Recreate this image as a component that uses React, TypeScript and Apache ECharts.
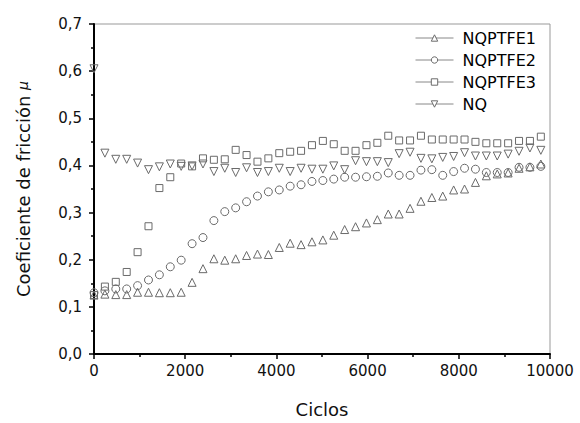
import React, { useEffect, useRef } from "react";
import * as echarts from "echarts";

const cycles = [
  0, 239, 478, 717, 956, 1195, 1434, 1673, 1912, 2151, 2390, 2629, 2868, 3107,
  3346, 3585, 3824, 4063, 4302, 4541, 4780, 5019, 5258, 5497, 5736, 5975, 6214,
  6453, 6692, 6931, 7170, 7409, 7648, 7887, 8126, 8365, 8604, 8843, 9082, 9321,
  9560, 9799,
];

const nqptfe1 = [
  0.125, 0.127, 0.126, 0.126, 0.131, 0.131, 0.13, 0.13, 0.131, 0.152, 0.181,
  0.202, 0.199, 0.202, 0.209, 0.212, 0.211, 0.226, 0.235, 0.232, 0.238, 0.242,
  0.252, 0.264, 0.27, 0.278, 0.285, 0.297, 0.297, 0.309, 0.324, 0.332, 0.335,
  0.348, 0.35, 0.364, 0.378, 0.382, 0.384, 0.394, 0.397, 0.403,
];

const nqptfe2 = [
  0.13, 0.134, 0.138, 0.138, 0.145, 0.157, 0.168, 0.185, 0.199, 0.234, 0.247,
  0.283, 0.302, 0.31, 0.323, 0.335, 0.344, 0.348, 0.356, 0.359, 0.366, 0.368,
  0.371, 0.375, 0.375, 0.376, 0.377, 0.384, 0.379, 0.379, 0.39, 0.391, 0.379,
  0.387, 0.394, 0.392, 0.385, 0.385, 0.385, 0.396, 0.396, 0.398,
];

const nqptfe3 = [
  0.125, 0.143, 0.153, 0.174, 0.216, 0.271, 0.352, 0.375, 0.404, 0.398, 0.415,
  0.412, 0.413, 0.433, 0.422, 0.408, 0.415, 0.426, 0.429, 0.431, 0.443, 0.452,
  0.445, 0.431, 0.431, 0.443, 0.448, 0.463, 0.453, 0.453, 0.463, 0.455, 0.455,
  0.455, 0.455, 0.45, 0.447, 0.447, 0.447, 0.452, 0.452, 0.461,
];

const nq = [
  0.605, 0.426, 0.413, 0.413, 0.405, 0.391, 0.397, 0.403, 0.398, 0.399, 0.403,
  0.387, 0.394, 0.385, 0.395, 0.385, 0.387, 0.394, 0.387, 0.394, 0.392, 0.392,
  0.399, 0.391, 0.41, 0.408, 0.408, 0.406, 0.425, 0.428, 0.415, 0.414, 0.417,
  0.419, 0.427, 0.42, 0.42, 0.42, 0.424, 0.43, 0.437, 0.432,
];

const seriesNames = ["NQPTFE1", "NQPTFE2", "NQPTFE3", "NQ"];
const seriesValues = [nqptfe1, nqptfe2, nqptfe3, nq];
const seriesSymbols = ["triangle", "circle", "rect", "triangle"];
const seriesRotate = [0, 0, 0, 180];

const FONT = "DejaVu Sans";
const MARK = "#6a6a6a";

export default function App() {
  const ref = useRef<HTMLDivElement>(null);

  useEffect(() => {
    if (!ref.current) return;
    const chart = echarts.init(ref.current, undefined, { renderer: "svg" });

    const series = seriesNames.map((name, s) => ({
      name,
      type: "line",
      data: cycles.map((c, i) => [c, seriesValues[s][i]]),
      symbol: seriesSymbols[s],
      symbolRotate: seriesRotate[s],
      symbolSize: seriesSymbols[s] === "rect" ? 7 : 8,
      showSymbol: true,
      showAllSymbol: true,
      lineStyle: { opacity: 0, width: 0 },
      itemStyle: { color: "transparent", borderColor: MARK, borderWidth: 1 },
      emphasis: { disabled: true },
      silent: true,
      clip: false,
    }));

    chart.setOption({
      animation: false,
      backgroundColor: "#fff",
      grid: {
        left: 94,
        right: 30,
        top: 24,
        bottom: 67,
        show: true,
        borderColor: "#999",
        borderWidth: 1,
        backgroundColor: "transparent",
      },
      legend: {
        orient: "vertical",
        left: 415,
        top: 30,
        padding: 0,
        itemGap: 6,
        itemWidth: 38,
        itemHeight: 8,
        data: seriesNames,
        selectedMode: false,
        lineStyle: { color: "#888", width: 1, opacity: 1 },
        itemStyle: { color: "#fff", borderColor: MARK, borderWidth: 1 },
        textStyle: {
          fontSize: 16,
          fontFamily: FONT,
          color: "#000",
          padding: [0, 0, 0, 4],
        },
      },
      xAxis: {
        type: "value",
        min: 0,
        max: 10000,
        interval: 2000,
        name: "Ciclos",
        nameLocation: "middle",
        nameGap: 46,
        nameTextStyle: { fontSize: 18, fontFamily: FONT, color: "#111" },
        axisLine: { show: true, onZero: false, lineStyle: { color: "#000", width: 2 } },
        axisTick: { show: true, length: 5, lineStyle: { color: "#000", width: 1.5 } },
        minorTick: {
          show: true,
          splitNumber: 2,
          length: 3,
          lineStyle: { color: "#000", width: 1.5 },
        },
        axisLabel: {
          fontSize: 15,
          fontFamily: FONT,
          color: "#111",
          margin: 9,
          formatter: (v: number) => String(v),
        },
        splitLine: { show: false },
        minorSplitLine: { show: false },
      },
      yAxis: {
        type: "value",
        min: 0,
        max: 0.7,
        interval: 0.1,
        name: "{a|Coeficiente de fricción }{b|μ}",
        nameLocation: "middle",
        nameGap: 62,
        nameTextStyle: {
          color: "#111",
          rich: {
            a: { fontSize: 18, fontFamily: FONT, color: "#111" },
            b: { fontSize: 14, fontFamily: FONT, fontStyle: "italic", color: "#111" },
          },
        },
        axisLine: { show: true, onZero: false, lineStyle: { color: "#000", width: 2 } },
        axisTick: { show: true, length: 5, lineStyle: { color: "#000", width: 1.5 } },
        minorTick: {
          show: true,
          splitNumber: 2,
          length: 3,
          lineStyle: { color: "#000", width: 1.5 },
        },
        axisLabel: {
          fontSize: 15,
          fontFamily: FONT,
          color: "#111",
          margin: 12,
          formatter: (v: number) => v.toFixed(1).replace(".", ","),
        },
        splitLine: { show: false },
        minorSplitLine: { show: false },
      },
      series,
    });

    return () => chart.dispose();
  }, []);

  return (
    <div
      ref={ref}
      style={{ position: "absolute", left: 0, top: 0, width: 580, height: 423 }}
    />
  );
}
